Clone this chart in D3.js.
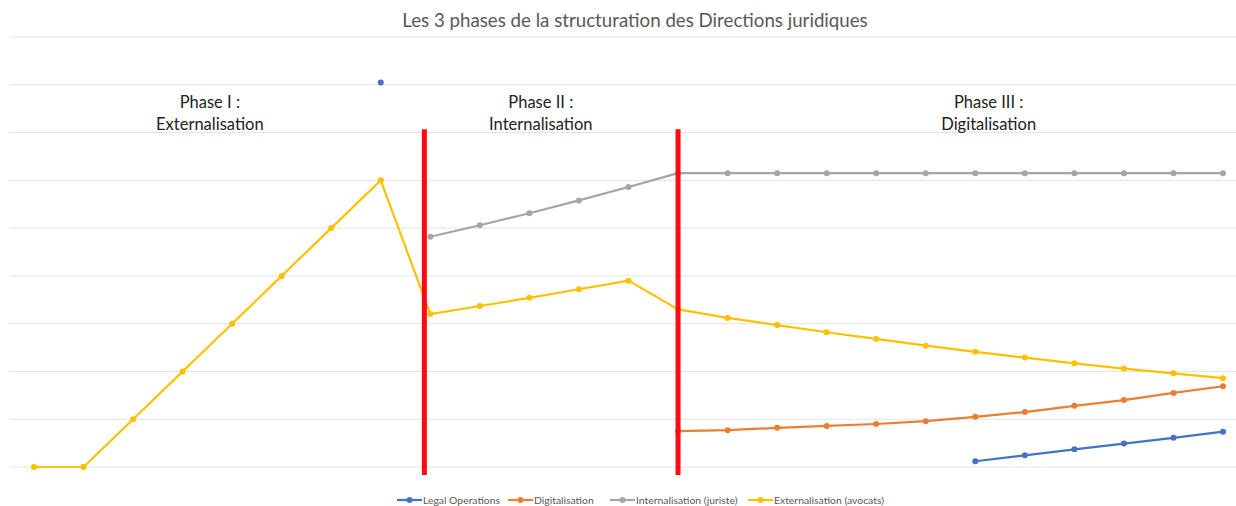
<!DOCTYPE html>
<html>
<head>
<meta charset="utf-8">
<script src="https://cdn.jsdelivr.net/npm/d3@7"></script>
<style>
  body { margin: 0; background: #fff; }
  text { font-family: Lato, "Open Sans", sans-serif; }
</style>
</head>
<body>
<svg id="chart" width="1236" height="506"></svg>
<script>
const categories = ["1","2","3","4","5","6","7","8","9","10","11","12","13","14","15","16","17","18","19","20","21","22","23","24","25"];

const legalOps = [null,null,null,null,null,null,null,8.05,null,null,null,null,null,null,null,null,null,null,null,0.12,0.245,0.37,0.49,0.61,0.74];
const digitalisation = [null,null,null,null,null,null,null,null,null,null,null,null,null,0.75,0.77,0.82,0.86,0.9,0.96,1.05,1.15,1.28,1.4,1.55,1.69];
const internalisation = [null,null,null,null,null,null,null,null,4.82,5.06,5.31,5.58,5.86,6.15,6.15,6.15,6.15,6.15,6.15,6.15,6.15,6.15,6.15,6.15,6.15];
const externalisation = [0,0,1,2,3,4,5,6,3.2,3.37,3.54,3.72,3.9,3.3,3.12,2.97,2.82,2.68,2.54,2.41,2.29,2.17,2.06,1.96,1.86];

const seriesNames = ["Legal Operations", "Digitalisation", "Internalisation (juriste)", "Externalisation (avocats)"];
const seriesColors = ["#4472C4", "#ED7D31", "#A5A5A5", "#FFC000"];

// phase separators (category index) and labels
const phaseBreaks = [7.88, 13];
const phaseTitles = ["Phase I :", "Phase II :", "Phase III :"];
const phaseSubtitles = ["Externalisation", "Internalisation", "Digitalisation"];
const phaseCenters = [3.55, 10.23, 19.27];

const svg = d3.select("#chart");
const plot = { left: 9.2, right: 1247.8, top: 37, bottom: 467 };

const x = d3.scaleLinear().domain([-0.5, categories.length - 0.5]).range([plot.left, plot.right]);
const y = d3.scaleLinear().domain([0, 9]).range([plot.bottom, plot.top]);

// title
svg.append("text")
  .attr("x", 635).attr("y", 27)
  .attr("text-anchor", "middle")
  .attr("font-size", 18.7)
  .attr("fill", "#595959")
  .text("Les 3 phases de la structuration des Directions juridiques");

// gridlines
svg.append("g")
  .selectAll("line")
  .data(y.ticks(9))
  .join("line")
  .attr("x1", plot.left).attr("x2", plot.right)
  .attr("y1", d => y(d)).attr("y2", d => y(d))
  .attr("stroke", "#e3e3e3")
  .attr("stroke-width", 1);

// phase labels
const labels = svg.append("g").attr("font-size", 16.5).attr("fill", "#222").attr("text-anchor", "middle");
phaseTitles.forEach((t, i) => {
  labels.append("text").attr("x", x(phaseCenters[i])).attr("y", 107.5).text(t);
  labels.append("text").attr("x", x(phaseCenters[i])).attr("y", 130).text(phaseSubtitles[i]);
});

const allSeries = [legalOps, digitalisation, internalisation, externalisation];

const line = d3.line()
  .defined(d => d != null)
  .x((d, i) => x(i))
  .y(d => y(d));

allSeries.forEach((s, k) => {
  svg.append("path")
    .attr("d", line(s))
    .attr("fill", "none")
    .attr("stroke", seriesColors[k])
    .attr("stroke-width", 2.2)
    .attr("stroke-linejoin", "round");
  svg.append("g")
    .selectAll("circle")
    .data(s.map((v, i) => ({ v, i })).filter(d => d.v != null))
    .join("circle")
    .attr("cx", d => x(d.i))
    .attr("cy", d => y(d.v))
    .attr("r", 3)
    .attr("fill", seriesColors[k]);
});

// red phase separators
svg.append("g")
  .selectAll("line")
  .data(phaseBreaks)
  .join("line")
  .attr("x1", d => x(d)).attr("x2", d => x(d))
  .attr("y1", y(7.07)).attr("y2", y(-0.17))
  .attr("stroke", "#FF0A14")
  .attr("stroke-width", 5);

// legend
const legendX = [397, 508, 610, 748];
const legend = svg.append("g").attr("transform", "translate(0,500)");
seriesNames.forEach((name, k) => {
  const g = legend.append("g").attr("transform", `translate(${legendX[k]},0)`);
  g.append("line").attr("x1", 0).attr("x2", 25).attr("stroke", seriesColors[k]).attr("stroke-width", 2.2);
  g.append("circle").attr("cx", 12.5).attr("r", 3).attr("fill", seriesColors[k]);
  g.append("text").attr("x", 26).attr("y", 3.5).attr("font-size", 10.4).attr("fill", "#595959").text(name);
});
</script>
</body>
</html>
